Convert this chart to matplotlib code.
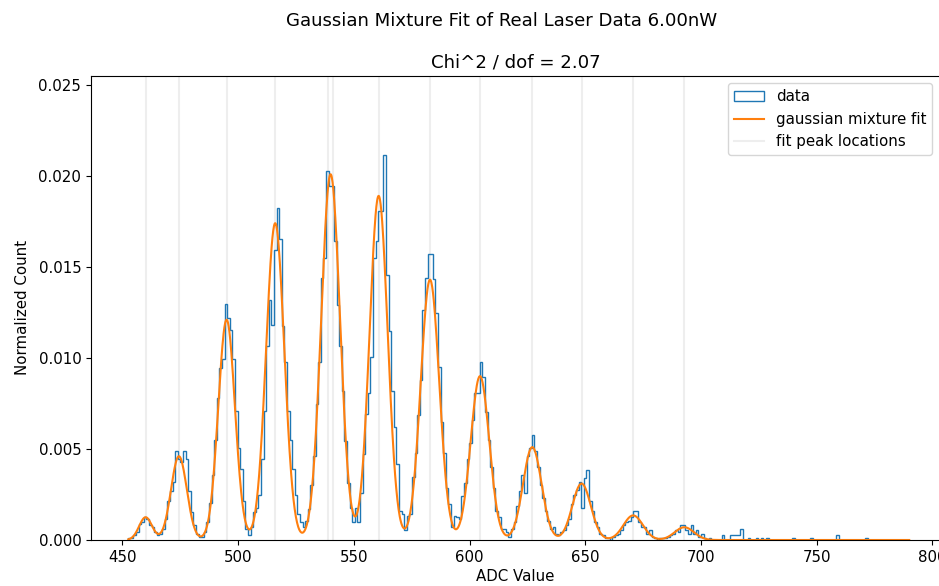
# -*- coding: utf-8 -*-
"""
Gaussian mixture fit of real laser ADC data (6.00 nW).
Histogram of normalized counts + fitted mixture + fitted peak positions.
"""
import numpy as np
import matplotlib
matplotlib.use("Agg")
import matplotlib.pyplot as plt

# ---- histogram of the data ----
BIN_START = 452.5      # first bin edge (ADC)
BIN_WIDTH = 1.125      # 300 bins up to 790
N_EVENTS = 10000       # used for normalisation

COUNTS = [
    1, 1, 3, 5, 10, 11, 14, 13, 9, 8, 5, 3, 4, 7, 13, 24, 30, 36, 55, 50,
    48, 55, 50, 30, 17, 9, 4, 2, 2, 5, 11, 23, 40, 62, 88, 106, 112, 146, 137, 130,
    112, 80, 57, 44, 24, 7, 3, 8, 17, 20, 28, 50, 80, 120, 148, 133, 179, 205, 186, 132,
    110, 80, 62, 44, 28, 16, 11, 8, 12, 19, 34, 52, 84, 110, 162, 174, 228, 219, 219, 185,
    145, 120, 92, 61, 35, 20, 11, 20, 11, 29, 53, 78, 91, 113, 174, 185, 203, 203, 238, 164,
    129, 92, 70, 47, 18, 16, 6, 15, 16, 39, 54, 77, 99, 142, 162, 177, 177, 161, 140, 107,
    73, 54, 32, 22, 8, 15, 14, 13, 27, 35, 50, 60, 74, 91, 91, 110, 101, 79, 62, 45,
    32, 18, 14, 7, 7, 5, 2, 7, 11, 21, 30, 40, 29, 52, 57, 65, 55, 45, 34, 26,
    18, 12, 7, 8, 4, 3, 5, 6, 9, 13, 22, 28, 31, 36, 20, 38, 43, 24, 18, 11,
    8, 4, 3, 1, 1, 0, 2, 3, 4, 6, 9, 11, 12, 14, 18, 18, 11, 8, 8, 4,
    6, 2, 1, 0, 1, 1, 1, 2, 3, 4, 6, 5, 9, 9, 6, 4, 9, 4, 6, 2,
    4, 1, 0, 1, 0, 0, 0, 0, 3, 0, 0, 3, 3, 3, 3, 7, 0, 0, 1, 0,
    0, 1, 0, 1, 0, 1, 0, 0, 0, 0, 0, 0, 0, 0, 0, 1, 0, 0, 0, 0,
    0, 0, 1, 0, 0, 0, 0, 0, 0, 0, 0, 0, 3, 0, 0, 0, 0, 0, 0, 0,
    0, 0, 0, 1, 0, 0, 0, 0, 0, 0, 0, 0, 0, 0, 0, 0, 0, 0, 0, 0,
]

# ---- fitted gaussian mixture (peak height, mean, sigma) ----
FIT_MEANS = [460.0, 474.4, 495.0, 516.0, 538.9, 541.1, 560.7,
             582.9, 604.5, 627.1, 648.4, 670.7, 692.8]
FIT_HEIGHTS = [0.00125, 0.0046, 0.0121, 0.0174, 0.0110, 0.0099, 0.0189,
               0.0143, 0.0090, 0.0051, 0.0031, 0.00135, 0.0007]
FIT_SIGMAS = [2.8, 3.4, 3.6, 3.9, 3.9, 3.9, 3.9,
              4.0, 4.0, 4.0, 4.0, 4.2, 4.2]

POWER_NW = 6.00
CHI2_DOF = 2.07

plt.rcParams["font.size"] = 10.85


def mixture(x):
    y = np.zeros_like(x)
    for mu, h, s in zip(FIT_MEANS, FIT_HEIGHTS, FIT_SIGMAS):
        y += h * np.exp(-(x - mu) ** 2 / (2 * s ** 2))
    return y


def main():
    counts = np.array(COUNTS, dtype=float)
    edges = BIN_START + BIN_WIDTH * np.arange(len(counts) + 1)
    centers = 0.5 * (edges[:-1] + edges[1:])
    density = counts / (N_EVENTS * BIN_WIDTH)

    fig = plt.figure(figsize=(9.39, 5.86), dpi=100)
    ax = fig.add_axes([91 / 939, 46 / 586, 849 / 939, 464.3 / 586])

    ax.hist(centers, bins=edges, weights=density, histtype="step",
            color="#1f77b4", label="data")
    xs = np.linspace(edges[0], edges[-1], 2000)
    ax.plot(xs, mixture(xs), color="#ff7f0e", lw=1.5,
            label="gaussian mixture fit")
    for k, mu in enumerate(FIT_MEANS):
        ax.axvline(mu, color="grey", alpha=0.13, lw=1.5, zorder=0.5,
                   label="fit peak locations" if k == 0 else None)

    ax.set_xlim(436.4, 803.3)
    ax.set_ylim(0, 0.0255)
    ax.set_xlabel("ADC Value", labelpad=3)
    ax.set_ylabel("Normalized Count", labelpad=6)
    ax.set_title(f"Chi^2 / dof = {CHI2_DOF:.2f}")
    ax.legend(loc="upper right")
    fig.suptitle(f"Gaussian Mixture Fit of Real Laser Data {POWER_NW:.2f}nW",
                 x=502 / 939, y=0.98)

    fig.savefig("out.png", dpi=100)
    plt.close(fig)


if __name__ == "__main__":
    main()
